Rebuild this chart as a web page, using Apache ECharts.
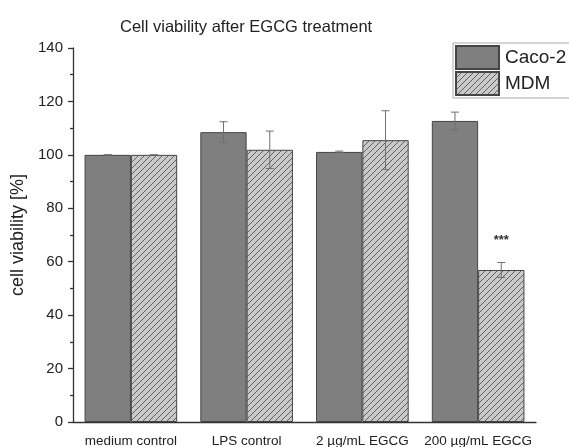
<!DOCTYPE html>
<html>
<head>
<meta charset="utf-8">
<script src="https://cdn.jsdelivr.net/npm/echarts@6/dist/echarts.min.js"></script>
<style>
  html, body { margin: 0; padding: 0; background: #fff; }
  #chart { width: 569px; height: 447px; }
</style>
</head>
<body>
<div id="chart"></div>
<script>
// Treatment groups on the x axis
const categories = ['medium control', 'LPS control', '2 µg/mL EGCG', '200 µg/mL EGCG'];
// Mean viability (%) per cell line
const caco2Values = [100, 108.5, 101.1, 112.7];
const mdmValues = [100, 101.9, 105.5, 56.9];
// Standard deviations
const caco2Errors = [0, 3.9, 0.3, 3.3];
const mdmErrors = [0, 7.0, 11.0, 2.8];
// Significance markers for MDM bars
const mdmSignificance = ['', '', '', '***'];
// Y axis tick values
const yTicks = [0, 20, 40, 60, 80, 100, 120, 140];

const FONT = 'Liberation Sans, Arial, sans-serif';

// Diagonal hatch fill for the MDM bars
function makeHatch() {
  const s = 6;
  const c = document.createElement('canvas');
  c.width = s; c.height = s;
  const ctx = c.getContext('2d');
  ctx.fillStyle = '#c9c9c9';
  ctx.fillRect(0, 0, s, s);
  ctx.strokeStyle = '#555';
  ctx.lineWidth = 0.9;
  ctx.beginPath();
  ctx.moveTo(0, s); ctx.lineTo(s, 0);
  ctx.moveTo(-s / 2, s / 2); ctx.lineTo(s / 2, -s / 2);
  ctx.moveTo(s / 2, s * 1.5); ctx.lineTo(s * 1.5, s / 2);
  ctx.stroke();
  return c;
}
const hatch = { image: makeHatch(), repeat: 'repeat' };

// Error bar renderer: offset = -1 for left bar, +1 for right bar
function errorRenderer(offsetSign) {
  return function (params, api) {
    const idx = api.value(0);
    const mean = api.value(1);
    const err = api.value(2);
    const band = api.size([1, 0])[0];
    const xc = api.coord([idx, mean])[0] + offsetSign * band * 0.2;
    const top = api.coord([idx, mean + err])[1];
    const bot = api.coord([idx, mean - err])[1];
    const cap = 4;
    const style = { stroke: '#707070', lineWidth: 1, fill: null };
    return {
      type: 'group',
      children: [
        { type: 'line', shape: { x1: xc, y1: top, x2: xc, y2: bot }, style },
        { type: 'line', shape: { x1: xc - cap, y1: top, x2: xc + cap, y2: top }, style },
        { type: 'line', shape: { x1: xc - cap, y1: bot, x2: xc + cap, y2: bot }, style }
      ]
    };
  };
}

const chart = echarts.init(document.getElementById('chart'), null, { renderer: 'canvas' });

chart.setOption({
  animation: false,
  backgroundColor: '#fff',
  textStyle: { fontFamily: FONT },
  title: {
    text: 'Cell viability after EGCG treatment',
    left: 115,
    top: 14,
    textStyle: { fontFamily: FONT, fontSize: 16.5, fontWeight: 'normal', color: '#222' }
  },
  legend: {
    orient: 'vertical',
    left: 453,
    top: 43,
    padding: [2, 20, 2, 2],
    itemWidth: 43,
    itemHeight: 23,
    itemGap: 1,
    borderColor: '#aaa',
    borderWidth: 1,
    backgroundColor: '#fff',
    icon: 'rect',
    textStyle: { fontFamily: FONT, fontSize: 19, color: '#222', padding: [0, 0, 0, 1] },
    data: ['Caco-2', 'MDM']
  },
  grid: { left: 73, right: 33, top: 48, bottom: 25, containLabel: false, outerBoundsMode: 'none' },
  xAxis: [
    {
      type: 'category',
      data: categories,
      axisLine: { lineStyle: { color: '#333', width: 1.3 } },
      axisTick: { alignWithLabel: true, length: 5, lineStyle: { color: '#333', width: 1.3 } },
      axisLabel: { fontFamily: FONT, fontSize: 13.5, color: '#222', margin: 12, interval: 0 }
    },
    {
      type: 'category',
      data: categories,
      position: 'bottom',
      axisLine: { show: false },
      axisTick: { length: 2, lineStyle: { color: '#333', width: 1.3 } },
      axisLabel: { show: false }
    }
  ],
  yAxis: {
    type: 'value',
    min: yTicks[0],
    max: yTicks[yTicks.length - 1],
    interval: 20,
    name: 'cell viability [%]',
    nameLocation: 'middle',
    nameGap: 40,
    nameTextStyle: { fontFamily: FONT, fontSize: 18, color: '#222' },
    axisLine: { show: true, lineStyle: { color: '#333', width: 1.3 } },
    axisTick: { show: true, length: 5, lineStyle: { color: '#333', width: 1.3 } },
    minorTick: { show: true, splitNumber: 2, length: 3, lineStyle: { color: '#333', width: 1.3 } },
    splitLine: { show: false },
    axisLabel: { fontFamily: FONT, fontSize: 15, color: '#222', margin: 10 }
  },
  series: [
    {
      name: 'Caco-2',
      type: 'bar',
      data: caco2Values,
      barGap: 0,
      barCategoryGap: '20%',
      itemStyle: { color: '#7f7f7f', borderColor: '#444', borderWidth: 1 }
    },
    {
      name: 'MDM',
      type: 'bar',
      data: mdmValues.map((v, i) => ({
        value: v,
        label: {
          show: mdmSignificance[i] !== '',
          formatter: mdmSignificance[i],
          position: 'top',
          distance: 23,
          fontFamily: FONT,
          fontSize: 13,
          fontWeight: 'bold',
          color: '#333'
        }
      })),
      barGap: 0,
      barCategoryGap: '20%',
      itemStyle: { color: hatch, borderColor: '#444', borderWidth: 1 }
    },
    {
      type: 'custom',
      name: 'Caco-2 error',
      renderItem: errorRenderer(-1),
      data: caco2Values.map((v, i) => [i, v, caco2Errors[i]]),
      z: 10
    },
    {
      type: 'custom',
      name: 'MDM error',
      renderItem: errorRenderer(1),
      data: mdmValues.map((v, i) => [i, v, mdmErrors[i]]),
      z: 10
    }
  ]
});
</script>
</body>
</html>
